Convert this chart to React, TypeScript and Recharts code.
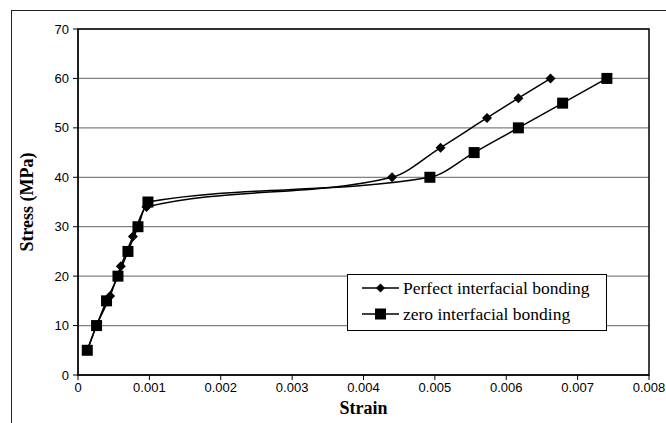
import React from "react";
import {
  LineChart,
  Line,
  XAxis,
  YAxis,
  CartesianGrid,
  ReferenceArea,
  Label,
} from "recharts";

// strain, stress (MPa)
const perfectStrain = [0.00013, 0.00026, 0.00045, 0.0006, 0.00077, 0.00096, 0.0044, 0.00508, 0.00573, 0.00617, 0.00662];
const perfectStress = [5, 10, 16, 22, 28, 34, 40, 46, 52, 56, 60];

const zeroStrain = [0.00013, 0.00026, 0.0004, 0.00056, 0.0007, 0.00084, 0.00098, 0.00493, 0.00555, 0.00617, 0.00679, 0.00741];
const zeroStress = [5, 10, 15, 20, 25, 30, 35, 40, 45, 50, 55, 60];

const xTicks = [0, 0.001, 0.002, 0.003, 0.004, 0.005, 0.006, 0.007, 0.008];
const yTicks = [0, 10, 20, 30, 40, 50, 60, 70];

const perfect = perfectStrain.map((x, i) => ({ x, y: perfectStress[i] }));
const zero = zeroStrain.map((x, i) => ({ x, y: zeroStress[i] }));

const tickStyle = { fontFamily: "Liberation Sans, Arial", fontSize: 13, fill: "#000" };
const titleStyle = { fontFamily: "Liberation Serif, Times New Roman", fontSize: 18, fontWeight: "bold", fill: "#000" };

const Diamond = (props: any) => {
  const { cx, cy } = props;
  if (cx == null || cy == null) return null;
  return (
    <path
      d={`M${cx},${cy - 5} L${cx + 5},${cy} L${cx},${cy + 5} L${cx - 5},${cy} Z`}
      fill="#000"
    />
  );
};

const Square = (props: any) => {
  const { cx, cy } = props;
  if (cx == null || cy == null) return null;
  return <rect x={cx - 5.5} y={cy - 5.5} width={11} height={11} fill="#000" />;
};

const legendFont = { fontFamily: "Liberation Serif, Times New Roman", fontSize: 17.5 };

const LegendBox = () => (
  <svg
    width={260}
    height={57}
    style={{ position: "absolute", left: 347, top: 274, display: "block" }}
  >
    <rect x={0.5} y={0.5} width={259} height={56} fill="#fff" stroke="#000" />
    <line x1={15} y1={14} x2={52} y2={14} stroke="#000" strokeWidth={1.5} />
    <path d="M33.5,9.5 L38,14 L33.5,18.5 L29,14 Z" fill="#000" />
    <text x={56} y={19.5} style={legendFont}>
      Perfect interfacial bonding
    </text>
    <line x1={15} y1={40} x2={52} y2={40} stroke="#000" strokeWidth={1.5} />
    <rect x={28} y={34.5} width={11} height={11} fill="#000" />
    <text x={56} y={45.5} style={legendFont}>
      zero interfacial bonding
    </text>
  </svg>
);

export default function App() {
  return (
    <div
      style={{
        position: "absolute",
        left: 0,
        top: 0,
        width: 666,
        height: 423,
        overflow: "hidden",
        background: "#fff",
      }}
    >
      <LineChart
        width={666}
        height={423}
        margin={{ top: 29, right: 17, bottom: 18, left: 0 }}
        style={{ position: "absolute", left: 0, top: 0 }}
      >
        <CartesianGrid vertical={false} stroke="#808080" strokeWidth={1.2} />
        <XAxis
          type="number"
          dataKey="x"
          domain={[0, 0.008]}
          ticks={xTicks}
          allowDataOverflow
          tick={tickStyle}
          tickSize={5}
          tickMargin={3}
          axisLine={{ stroke: "#000" }}
          tickLine={{ stroke: "#000" }}
        >
          <Label value="Strain" position="insideBottom" offset={-9} style={titleStyle} />
        </XAxis>
        <YAxis
          type="number"
          dataKey="y"
          domain={[0, 70]}
          ticks={yTicks}
          width={78}
          tick={tickStyle}
          tickSize={5}
          tickMargin={4}
          axisLine={{ stroke: "#000" }}
          tickLine={{ stroke: "#000" }}
        >
          <Label
            value="Stress (MPa)"
            angle={-90}
            position="insideLeft"
            offset={27}
            style={{ ...titleStyle, textAnchor: "middle" }}
          />
        </YAxis>
        <ReferenceArea x1={0} x2={0.008} y1={0} y2={70} fill="none" stroke="#000" strokeWidth={1.5} />
        <Line
          data={perfect}
          dataKey="y"
          type="monotone"
          stroke="#000"
          strokeWidth={1.5}
          dot={<Diamond />}
          activeDot={false}
          isAnimationActive={false}
          name="Perfect interfacial bonding"
        />
        <Line
          data={zero}
          dataKey="y"
          type="monotone"
          stroke="#000"
          strokeWidth={1.5}
          dot={<Square />}
          activeDot={false}
          isAnimationActive={false}
          name="zero interfacial bonding"
        />
      </LineChart>
      <LegendBox />
      <div
        style={{
          position: "absolute",
          left: 11,
          top: 10,
          width: 720,
          height: 500,
          border: "1px solid #222",
          pointerEvents: "none",
          zIndex: 10,
        }}
      />
    </div>
  );
}
